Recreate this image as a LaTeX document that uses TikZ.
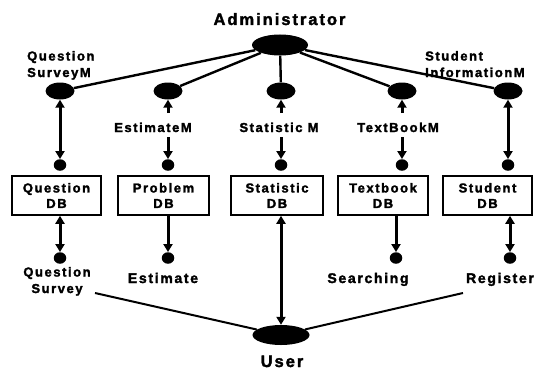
\documentclass[tikz,border=0pt]{standalone}
\usepackage{fontspec}
\newfontfamily\lab[LetterSpace=12,BoldFont={Liberation Sans Bold},BoldFeatures={FakeBold=2}]{Liberation Sans}
\usetikzlibrary{arrows.meta,shapes.geometric}
\begin{document}
\begin{tikzpicture}[x=1pt,y=-1pt,
  txt/.style={font=\lab\bfseries\fontsize{13}{16.5}\selectfont, inner sep=0pt},
  btxt/.style={font=\lab\bfseries\fontsize{14}{16}\selectfont, inner sep=0pt},
  bigtxt/.style={font=\lab\bfseries\fontsize{16.5}{18}\selectfont, inner sep=0pt},
  dbbox/.style={draw, line width=1.6pt, minimum height=39pt, align=center, font=\lab\bfseries\fontsize{13}{15.5}\selectfont, inner sep=0pt},
  blob/.style={ellipse, fill=black, inner sep=0pt},
  modl/.style={blob, minimum width=29pt, minimum height=17pt},
  dotn/.style={blob, minimum width=12.5pt, minimum height=11.5pt},
  arr/.style={line width=3pt, -{Triangle[length=8pt,width=9pt]}},
  dbl/.style={line width=3pt, {Triangle[length=8pt,width=9pt]}-{Triangle[length=8pt,width=9pt]}},
  link/.style={line width=2.4pt},
  ulink/.style={line width=2pt}]
\useasboundingbox (0,0) rectangle (540,369);

% administrator and user
\node[blob, minimum width=56pt, minimum height=21pt] (adm) at (280,45) {};
\node[bigtxt, anchor=base] (tadm) at (279.5,25) {Administrator};
\node[blob, minimum width=57pt, minimum height=20pt] (user) at (281,335) {};
\node[bigtxt, anchor=base] (tuser) at (282,367) {User};

% module ellipses
\node[modl] (mQ) at (60,91) {};
\node[modl] (mP) at (168,91) {};
\node[modl] (mS) at (281,91) {};
\node[modl] (mT) at (402,91) {};
\node[modl] (mSt) at (508,91) {};

% module labels
\node[txt, align=left, anchor=base west] (lQ) at (27,77) {Question\\SurveyM};
\node[txt, align=left, anchor=base west] (lSt) at (425,77) {Student\\InformationM};
\node[txt, anchor=base] (lP) at (153,132) {EstimateM};
\node[txt, anchor=base] (lS) at (279,132) {Statistic M};
\node[txt, anchor=base] (lT) at (398,132) {TextBookM};

% upper dots
\node[dotn] (dQ) at (60,165) {};
\node[dotn] (dP) at (168,165) {};
\node[dotn] (dS) at (281,165) {};
\node[dotn] (dT) at (402,165) {};
\node[dotn] (dSt) at (508,165) {};

% database boxes
\node[dbbox, minimum width=89pt] (bQ) at (56.5,195.5) {Question\\DB};
\node[dbbox, minimum width=91pt] (bP) at (163.5,195.5) {Problem\\DB};
\node[dbbox, minimum width=92pt] (bS) at (277,195.5) {Statistic\\DB};
\node[dbbox, minimum width=90pt] (bT) at (383,195.5) {Textbook\\DB};
\node[dbbox, minimum width=89pt] (bSt) at (487.5,195.5) {Student\\DB};

% lower dots
\node[dotn] (eQ) at (60,258) {};
\node[dotn] (eP) at (168,258) {};
\node[dotn] (eT) at (396,258) {};
\node[dotn] (eSt) at (510,258) {};

% lower labels
\node[txt, align=center, anchor=base] (tQS) at (57,293) {Question\\Survey};
\node[btxt, anchor=base] (tE) at (163,283) {Estimate};
\node[btxt, anchor=base] (tSe) at (368,283) {Searching};
\node[btxt, anchor=base] (tR) at (500,283) {Register};

% admin links
\draw[link] (adm) -- (mQ);
\draw[link] (adm) -- (mP);
\draw[link] (adm) -- (mS);
\draw[link] (adm) -- (mT);
\draw[link] (adm) -- (mSt);

% upper arrows
\coordinate (pU) at (168,113); \coordinate (pD) at (168,137);
\coordinate (sU) at (281,113); \coordinate (sD) at (281,137);
\coordinate (tU) at (402,113); \coordinate (tD) at (402,137);
\draw[dbl] (mQ) -- (dQ);
\draw[arr] (pU) -- (mP);
\draw[arr] (pD) -- (dP);
\draw[arr] (sU) -- (mS);
\draw[arr] (sD) -- (dS);
\draw[arr] (tU) -- (mT);
\draw[arr] (tD) -- (dT);
\draw[dbl] (mSt) -- (dSt);

% lower arrows
\draw[dbl] (bQ.south -| eQ) -- (eQ);
\draw[arr] (bP.south -| eP) -- (eP);
\draw[dbl] (bS.south -| user) -- (user);
\draw[arr] (bT.south -| eT) -- (eT);
\draw[dbl] (bSt.south -| eSt) -- (eSt);

% user links
\coordinate (qsEnd) at (95,293);
\coordinate (rgEnd) at (463,293);
\draw[ulink] (qsEnd) -- (user);
\draw[ulink] (rgEnd) -- (user);
\end{tikzpicture}
\end{document}
